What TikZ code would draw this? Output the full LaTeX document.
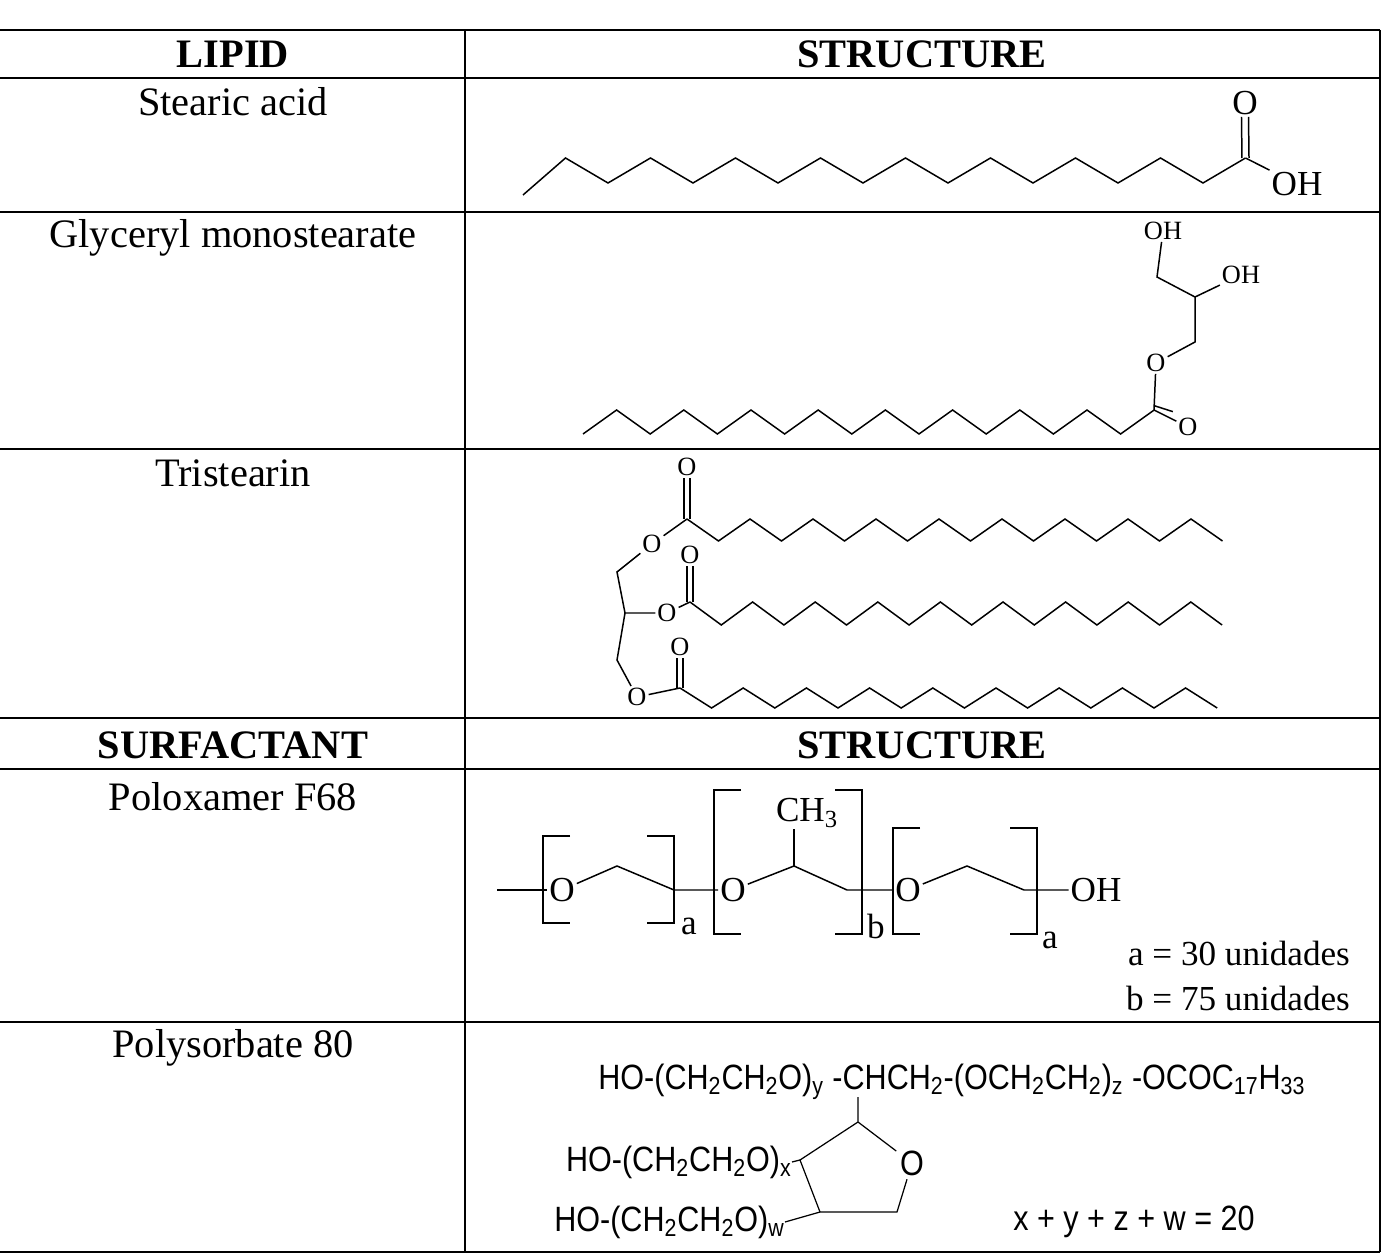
\documentclass[tikz,border=0pt]{standalone}
\usepackage{fontspec}
\setmainfont{Liberation Serif}
\setsansfont{Liberation Sans}
\newfontfamily\arialn[FakeStretch=0.87]{Liberation Sans}
\usetikzlibrary{positioning}

\begin{document}
\begin{tikzpicture}[x=0.02cm, y=-0.02cm,
    grid/.style={line width=1.1pt},
    bond/.style={line width=0.85pt},
    cell/.style={font=\fontsize{23}{26}\selectfont},
    head/.style={font=\bfseries\fontsize{23}{26}\selectfont},
    atom/.style={inner sep=1pt, font=\fontsize{20}{20}\selectfont},
    satom/.style={inner sep=1pt, font=\fontsize{15}{15}\selectfont},
    arial/.style={inner sep=0pt, font=\arialn\fontsize{20}{20}\selectfont}]
   \useasboundingbox (0,0) rectangle (1384,1256);

   % table
   \foreach \y in {30,78,212,449,718,769,1022,1252}
      \draw[grid] (0,\y) -- (1380,\y);
   \draw[grid] (465,30) -- (465,1252);
   \draw[grid] (1380,30) -- (1380,1252);

   \node [head] (hLip) at (233,54)  {LIPID};
   \node [head] (hStr) at (922,54)  {STRUCTURE};
   \node [head] (hSur) at (233,745) {SURFACTANT};
   \node [head] (hSt2) at (922,745) {STRUCTURE};
   \node [cell] (nSte) at (233,102)  {Stearic acid};
   \node [cell] (nGms) at (233,238)  {Glyceryl monostearate};
   \node [cell] (nTri) at (233,473)  {Tristearin};
   \node [cell] (nPol) at (233,797)  {Poloxamer F68};
   \node [cell] (nPs)  at (233,1048) {Polysorbate 80};

   % stearic acid
   \coordinate (sC) at (1245.5,158);
   \node [atom] (sO)  at (1245,103) {O};
   \node [atom] (sOH) at (1297,184) {OH};
   \draw[bond] (523,195) \foreach \i in {1,...,17}{ -- ({523+42.5*\i},{183-25*mod(\i,2)}) };
   \draw[bond] ([xshift=-2pt]sC) -- ([xshift=-2pt]sO.south);
   \draw[bond] ([xshift=2pt]sC) -- ([xshift=2pt]sO.south);
   \draw[bond] (sC) -- (sOH);

   % glyceryl monostearate
   \coordinate (gC) at (1154,410);
   \coordinate (gC1) at (1195,342);
   \coordinate (gC2) at (1195,297);
   \coordinate (gC3) at (1157,277);
   \node [satom] (gO)   at (1156,363) {O};
   \node [satom] (gO2)  at (1188,427) {O};
   \node [satom] (gOH1) at (1163,231) {OH};
   \node [satom] (gOH2) at (1241,275) {OH};
   \draw[bond] (583,434) \foreach \i in {1,...,17}{ -- ({583+33.6*\i},{434-24*mod(\i,2)}) };
   \draw[bond] (gC) -- (gO) (gO) -- (gC1) -- (gC2) -- (gOH2)
      (gC2) -- (gC3) -- (gOH1);
   \draw[bond] (gC) -- (gO2);
   \draw[bond] ([yshift=2.5pt]gC) -- ([yshift=2.5pt,xshift=-2pt]gO2.north west);

   % tristearin
   \coordinate (tC1) at (687,519);
   \coordinate (tC2) at (690,602);
   \coordinate (tC3) at (680,688);
   \coordinate (tG1) at (617,572);
   \coordinate (tG2) at (625,613);
   \coordinate (tG3) at (617,660);
   \node [satom] (tO1) at (687,467) {O};
   \node [satom] (tO2) at (690,555) {O};
   \node [satom] (tO3) at (680,647) {O};
   \node [satom] (tE1) at (652,544) {O};
   \node [satom] (tE2) at (667,613) {O};
   \node [satom] (tE3) at (637,697) {O};
   \draw[bond] (tC1) \foreach \i in {1,...,17}{ -- ({687+31.5*\i},{519+22*mod(\i,2)}) };
   \draw[bond] (tC2) \foreach \i in {1,...,17}{ -- ({690+31.3*\i},{602+23*mod(\i,2)}) };
   \draw[bond] (tC3) \foreach \i in {1,...,17}{ -- ({680+31.6*\i},{688+20*mod(\i,2)}) };
   \draw[bond] (tC1) -- (tE1) -- (tG1) -- (tG2) -- (tG3) -- (tE3) -- (tC3);
   \draw[bond] (tG2) -- (tE2) -- (tC2);
   \foreach \n in {1,2,3}{
      \draw[bond] ([xshift=-1.8pt]tC\n) -- ([xshift=-1.8pt]tO\n.south);
      \draw[bond] ([xshift=1.8pt]tC\n) -- ([xshift=1.8pt]tO\n.south);
   }

   % poloxamer
   \node [atom] (pO1) at (562,890) {O};
   \node [atom] (pO2) at (733,890) {O};
   \node [atom] (pO3) at (908,890) {O};
   \node [atom] (pOH) at (1096,890) {OH};
   \node [atom] (pMe) at (807,813) {CH\textsubscript{3}};
   \coordinate (pL) at (497,890);
   \coordinate (pCH) at (794,866);
   \draw[bond] (pL) -- (pO1);
   \draw[bond] (pO1) -- (617,866) -- (674,890) -- (pO2);
   \draw[bond] (pO2) -- (pCH) -- (847,890) -- (pO3);
   \draw[bond] (pO3) -- (967,866) -- (1024,890) -- (pOH);
   \draw[bond] (pCH) -- (794,829);
   \foreach \l/\r/\t/\b in {543/674/836/923, 714/862/790/934, 893/1037/828/934}{
      \draw[bond] (\l+27,\t) -- (\l,\t) -- (\l,\b) -- (\l+27,\b);
      \draw[bond] (\r-27,\t) -- (\r,\t) -- (\r,\b) -- (\r-27,\b);
   }
   \node [atom] (pA1) at (689,926) {a};
   \node [atom] (pB)  at (876,926) {b};
   \node [atom] (pA2) at (1050,940) {a};
   \node [atom, anchor=east] (pNa) at (1352,953) {a = 30 unidades};
   \node [atom, anchor=east] (pNb) at (1352,998) {b = 75 unidades};

   % polysorbate 80
   \node [arial, anchor=west] (ps1) at (598,1082)
      {HO-(CH\textsubscript{2}CH\textsubscript{2}O)\textsubscript{y} -CHCH\textsubscript{2}-(OCH\textsubscript{2}CH\textsubscript{2})\textsubscript{z} -OCOC\textsubscript{17}H\textsubscript{33}};
   \node [arial, anchor=east] (psX) at (792,1162) {HO-(CH\textsubscript{2}CH\textsubscript{2}O)\textsubscript{x}};
   \node [arial, anchor=east] (psW) at (785,1222) {HO-(CH\textsubscript{2}CH\textsubscript{2}O)\textsubscript{w}};
   \node [arial, inner sep=2pt] (rO) at (912,1163) {O};
   \node [arial] (psSum) at (1134,1222) {x + y + z + w = 20};
   \coordinate (rA) at (858,1122);
   \coordinate (rB) at (897,1212);
   \coordinate (rC) at (820,1212);
   \coordinate (rD) at (800,1160);
   \draw[line width=0.7pt] (858,1097) -- (rA) -- (rO) -- (rB) -- (rC) -- (rD) -- (rA);
   \draw[line width=0.7pt] (psX.east) -- (rD) (psW.east) -- (rC);
\end{tikzpicture}
\end{document}
